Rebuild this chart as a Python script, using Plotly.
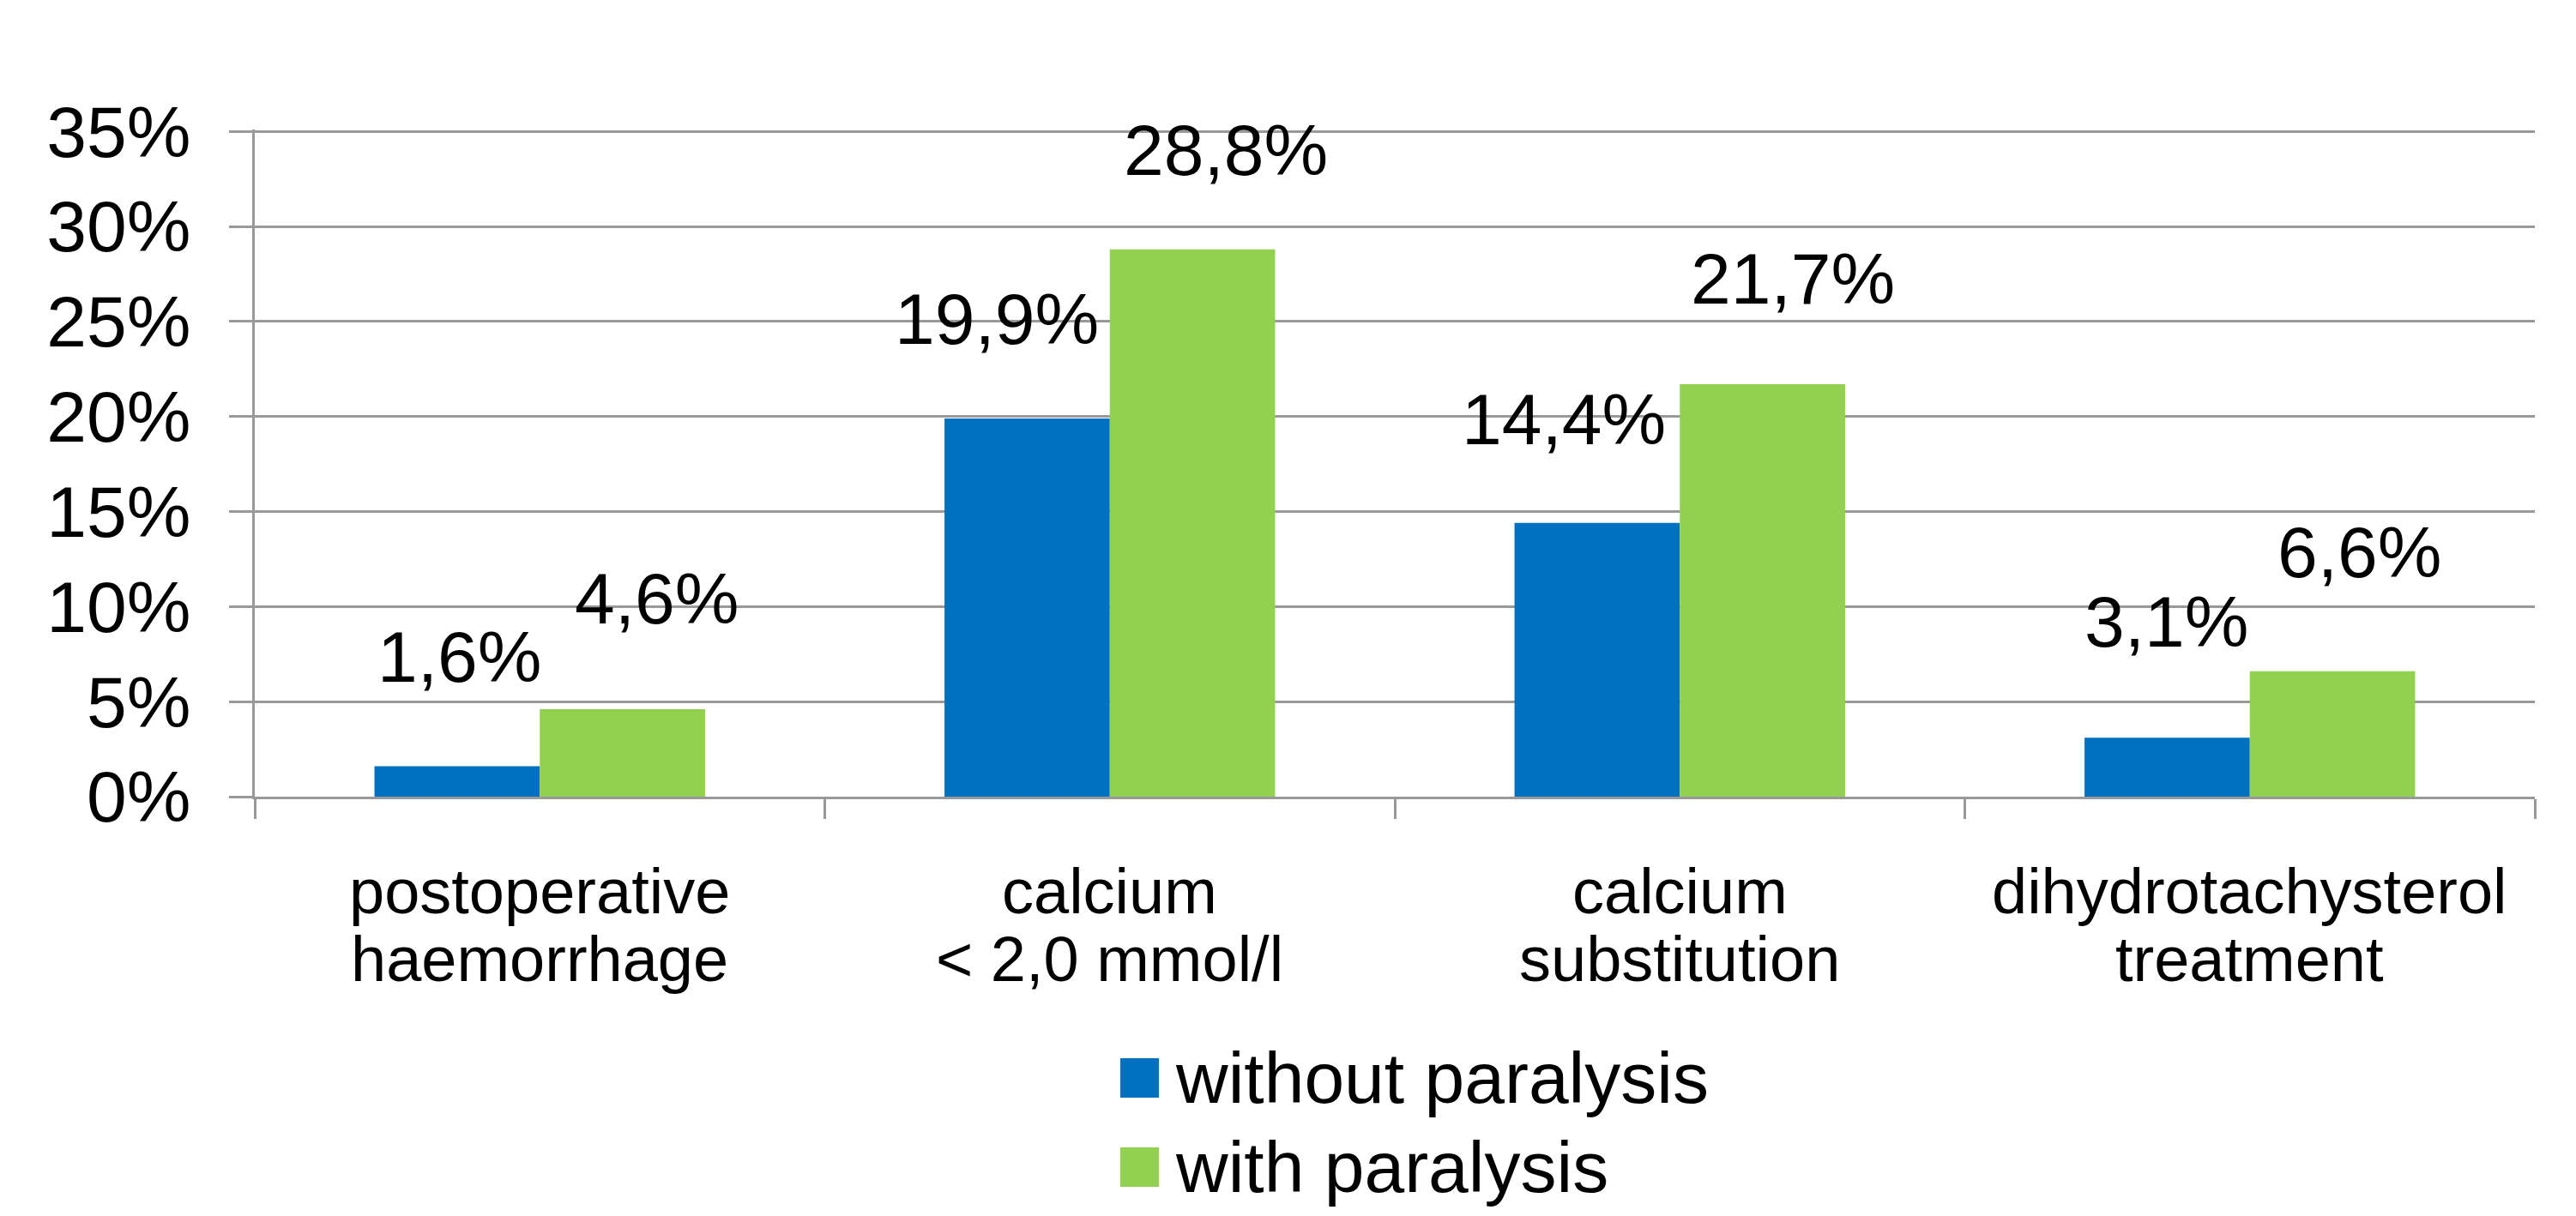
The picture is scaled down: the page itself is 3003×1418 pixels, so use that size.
import plotly.graph_objects as go

# ---------------- data ----------------
CATEGORY_LINES = [
    ["postoperative", "haemorrhage"],
    ["calcium", "< 2,0 mmol/l"],
    ["calcium", "substitution"],
    ["dihydrotachysterol", "treatment"],
]
CATEGORIES = [" ".join(lines) for lines in CATEGORY_LINES]
SERIES_NAMES = ["without paralysis", "with paralysis"]
WITHOUT_PARALYSIS = [1.6, 19.9, 14.4, 3.1]
WITH_PARALYSIS = [4.6, 28.8, 21.7, 6.6]
Y_TICK_VALUES = [0, 5, 10, 15, 20, 25, 30, 35]
Y_TICK_TEXT = ["0%", "5%", "10%", "15%", "20%", "25%", "30%", "35%"]

# ---------------- style / layout ----------------
COLORS = ["#0070C0", "#92D050"]
GRID = "#999999"
FONT = "Liberation Sans, Arial, sans-serif"
BARGAP = 0.42
Y_MAX = 35.1
PAGE_W, PAGE_H = 3003, 1418
OFF = 8  # default body margin of the html page
W, H = PAGE_W - 2 * OFF, PAGE_H - 2 * OFF
# plot area in absolute page pixels
PLOT_L, PLOT_R, PLOT_T, PLOT_B = 297, 2955, 151, 929
ML = PLOT_L - OFF
MT = PLOT_T - OFF
MR = W - (PLOT_R - OFF)
MB = H - (PLOT_B - OFF)
PLOT_H = PLOT_B - PLOT_T
PLOT_W = PLOT_R - PLOT_L
# manual label nudges (pixels) mimicking the hand-placed labels of the original
LABEL_DX = [[3, -35, -39, -1], [40, 39, 35, 31]]
LABEL_DY = [[128, 116, 121, 135], [129, 116, 123, 139]]


def fmt(v):
    return f"{v:.1f}".replace(".", ",") + "%"


def py(page_y):
    """absolute page row -> paper coordinate"""
    return (PLOT_B - page_y) / PLOT_H


def px(page_x):
    return (page_x - PLOT_L) / PLOT_W


series = [WITHOUT_PARALYSIS, WITH_PARALYSIS]

fig = go.Figure()
for name, vals, color in zip(SERIES_NAMES, series, COLORS):
    fig.add_trace(go.Bar(
        x=CATEGORIES, y=vals, name=name,
        marker=dict(color=color, line=dict(width=0)),
        showlegend=False,
    ))

annotations = []
half = (1 - BARGAP) / 4
for s, vals in enumerate(series):
    sign = -1 if s == 0 else 1
    for i, v in enumerate(vals):
        annotations.append(dict(
            x=i + sign * half, y=v, xref="x", yref="y",
            text=fmt(v), showarrow=False,
            xanchor="center", yanchor="middle",
            xshift=LABEL_DX[s][i], yshift=LABEL_DY[s][i],
            font=dict(family=FONT, size=84, color="black"),
        ))

# category labels (two lines each, tight line spacing like the original)
LINE_Y = [py(1039), py(1118)]
for i, lines in enumerate(CATEGORY_LINES):
    for j, line in enumerate(lines):
        annotations.append(dict(
            x=i, y=LINE_Y[j], xref="x", yref="paper",
            text=line, showarrow=False,
            xanchor="center", yanchor="middle",
            font=dict(family=FONT, size=74, color="black"),
        ))

# legend (drawn manually to keep the large colour swatches)
shapes = []
LEG_Y = [1257, 1361]
for s, name in enumerate(SERIES_NAMES):
    cy = LEG_Y[s]
    shapes.append(dict(
        type="rect", xref="paper", yref="paper",
        x0=px(1306), x1=px(1351), y0=py(cy + 23), y1=py(cy - 23),
        fillcolor=COLORS[s], line=dict(width=0),
    ))
    annotations.append(dict(
        x=px(1368), y=py(cy), xref="paper", yref="paper",
        text=name, showarrow=False, xanchor="left", yanchor="middle",
        font=dict(family=FONT, size=84, color="black"),
    ))

fig.update_layout(
    width=W, height=H,
    margin=dict(l=ML, r=MR, t=MT, b=MB, pad=0),
    paper_bgcolor="white", plot_bgcolor="white",
    barmode="group", bargap=BARGAP, bargroupgap=0,
    font=dict(family=FONT, color="black"),
    annotations=annotations, shapes=shapes,
    showlegend=False,
)
fig.update_yaxes(
    range=[0, Y_MAX], tickvals=Y_TICK_VALUES, ticktext=Y_TICK_TEXT,
    showgrid=True, gridcolor=GRID, gridwidth=2.5,
    showline=True, linecolor=GRID, linewidth=2.5,
    ticks="outside", ticklen=27, tickcolor=GRID, tickwidth=2.5,
    ticklabelstandoff=28,
    zeroline=False,
    tickfont=dict(family=FONT, size=84, color="black"),
)
fig.update_xaxes(
    showline=True, linecolor=GRID, linewidth=2.5,
    ticks="outside", tickson="boundaries", ticklen=23,
    tickcolor=GRID, tickwidth=2.5,
    showticklabels=False, showgrid=False, zeroline=False,
)

fig.write_html("out.html")
